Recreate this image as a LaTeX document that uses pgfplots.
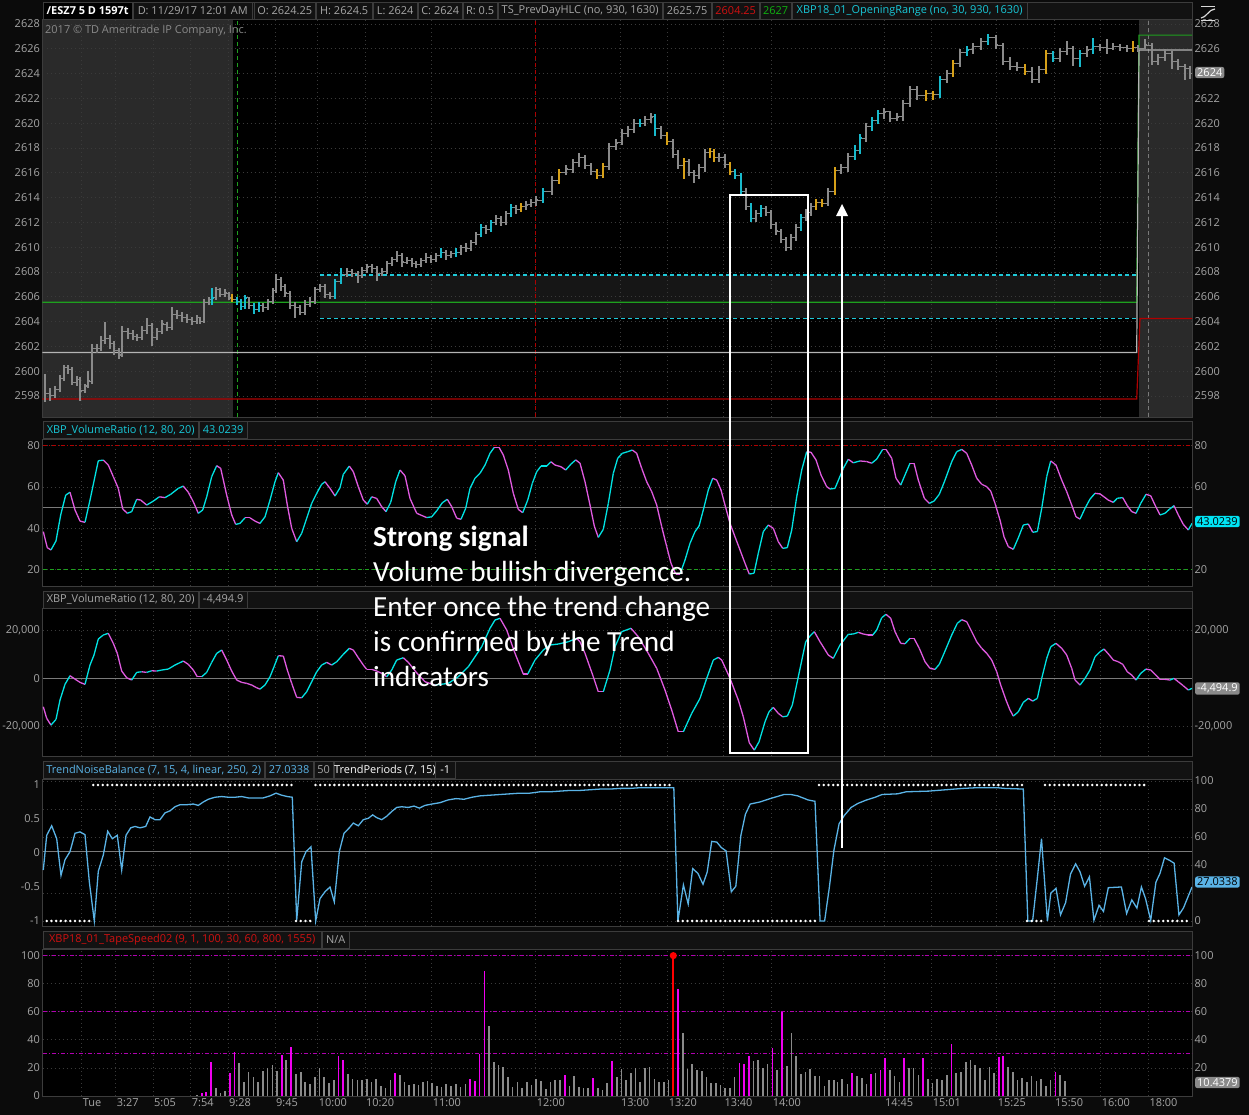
\documentclass[border=0pt]{standalone}
\usepackage{fontspec}
\setmainfont{Open Sans}
\newfontfamily\annot{Carlito}
\usepackage{pgfplots}
\usepackage{pgfplotstable}
\pgfplotsset{compat=1.18}

\definecolor{bgout}{HTML}{0B0B0B}
\definecolor{hdr}{HTML}{121212}
\definecolor{hdrline}{HTML}{3C3C3C}
\definecolor{gridc}{HTML}{3A3A3A}
\definecolor{tickc}{HTML}{A6A6A6}
\definecolor{shade}{HTML}{2A2A2A}
\definecolor{orfill}{HTML}{161616}
\definecolor{tnb}{HTML}{5AB3E6}
\definecolor{tsline}{HTML}{B000B0}
\definecolor{orline}{HTML}{1FC8D8}
\definecolor{pgreen}{HTML}{1EA01E}
\definecolor{pred}{HTML}{B00000}
\definecolor{pgray}{HTML}{B4B4B4}
\definecolor{midline}{HTML}{7A7A7A}
\definecolor{redtxt}{HTML}{D01010}
\definecolor{greentxt}{HTML}{10B010}
\definecolor{cyantxt}{HTML}{18C8D8}
\definecolor{tsgray}{HTML}{8A8A8A}
\definecolor{barcyan}{HTML}{18BACC}
\definecolor{barorange}{HTML}{D6A018}
\definecolor{tsmag}{HTML}{F000F0}
\definecolor{vrbox}{HTML}{00E5F5}

\newcommand\tf{\fontsize{11}{13}\selectfont}

% price bars: x, low, high, close, colour class (0 grey, 1 cyan, 2 orange)
\pgfplotstableread{
x l h c k
45 2597.5 2599.8 2598.2 0
50 2597.6 2598.6 2598.0 0
55 2597.8 2598.8 2598.5 0
60 2598.3 2599.7 2599.4 0
64 2599.2 2600.5 2600.3 0
68 2599.8 2600.5 2600.1 0
72 2598.9 2600.3 2599.1 0
77 2598.8 2599.6 2599.3 0
80 2597.6 2599.5 2598.4 0
85 2598.2 2599.0 2598.8 0
88 2598.6 2600.0 2599.2 0
92 2599.0 2602.2 2601.8 0
97 2601.5 2602.2 2601.8 0
101 2601.6 2602.8 2602.5 0
105 2602.2 2604.0 2602.6 0
110 2601.8 2602.9 2602.2 0
114 2601.3 2602.4 2601.7 0
119 2601.0 2601.9 2601.3 0
122 2601.1 2603.6 2603.2 0
128 2602.6 2603.5 2603.0 0
133 2602.5 2603.3 2602.8 0
137 2602.4 2603.0 2602.7 0
142 2602.5 2603.6 2603.3 0
147 2603.0 2604.3 2603.7 0
152 2602.0 2603.9 2602.7 0
157 2602.5 2603.5 2603.2 0
162 2603.0 2604.1 2603.8 0
167 2603.2 2604.0 2603.5 0
172 2603.3 2605.2 2604.6 0
177 2604.2 2604.9 2604.5 0
182 2604.0 2604.8 2604.3 0
187 2603.9 2604.6 2604.2 0
192 2603.7 2604.4 2604.0 0
197 2603.8 2604.5 2604.3 0
200 2603.8 2604.4 2604.0 0
204 2603.9 2605.8 2605.5 0
209 2605.3 2606.0 2605.8 0
212 2605.3 2606.7 2605.9 1
216 2605.7 2606.8 2606.6 0
220 2606.0 2606.7 2606.2 0
225 2606.0 2606.6 2606.3 0
229 2605.7 2606.4 2605.9 0
232 2605.6 2606.2 2605.8 2
237 2605.3 2606.0 2605.6 1
241 2604.9 2605.8 2605.2 1
245 2605.0 2606.1 2605.9 1
249 2605.0 2606.0 2605.3 0
254 2604.6 2605.5 2605.0 1
259 2604.8 2605.6 2605.3 1
263 2604.8 2605.5 2605.1 0
268 2604.9 2605.8 2605.6 0
273 2605.4 2606.7 2606.5 0
276 2606.3 2607.8 2607.4 0
281 2606.5 2607.6 2606.8 0
285 2606.0 2607.0 2606.3 0
290 2605.0 2606.5 2605.3 0
295 2604.3 2605.6 2605.1 0
300 2604.5 2605.3 2604.7 0
305 2604.5 2605.7 2605.4 0
310 2605.2 2606.0 2605.6 0
315 2605.4 2606.8 2606.6 0
320 2606.4 2607.0 2606.8 0
325 2605.9 2607.0 2606.2 0
330 2605.8 2606.4 2606.0 0
335 2605.8 2607.4 2607.2 1
341 2607.0 2608.3 2607.8 1
347 2607.6 2608.3 2608.0 0
352 2607.6 2608.2 2607.9 0
358 2607.1 2608.1 2607.7 0
362 2607.5 2608.4 2608.1 0
367 2607.9 2608.6 2608.4 0
372 2607.9 2608.6 2608.3 0
377 2607.3 2608.5 2607.9 0
382 2607.7 2608.3 2608.0 0
387 2607.8 2608.9 2608.7 0
392 2608.5 2609.2 2609.0 0
397 2608.8 2609.7 2609.3 0
402 2608.4 2609.5 2608.8 0
407 2608.6 2609.2 2608.9 0
412 2608.4 2609.1 2608.7 0
416 2608.3 2608.9 2608.6 0
421 2608.4 2609.1 2608.9 0
426 2608.7 2609.5 2609.2 0
431 2608.7 2609.4 2609.0 0
436 2608.8 2609.5 2609.3 0
441 2609.1 2609.9 2609.6 1
446 2609.0 2609.8 2609.3 0
451 2609.1 2609.7 2609.5 0
456 2609.2 2609.9 2609.6 1
461 2609.4 2610.2 2610.0 0
466 2609.6 2610.3 2609.9 0
471 2609.7 2610.6 2610.4 0
476 2610.2 2611.2 2611.0 0
481 2610.8 2611.9 2611.6 1
486 2611.1 2611.8 2611.4 0
491 2611.2 2612.2 2612.0 1
496 2611.8 2612.6 2612.3 0
501 2611.7 2612.5 2612.0 0
506 2611.8 2612.9 2612.7 0
511 2612.4 2613.5 2613.2 1
516 2612.7 2613.4 2613.0 0
521 2612.8 2613.6 2613.3 2
526 2613.0 2613.7 2613.4 0
531 2613.2 2613.9 2613.6 0
536 2613.3 2614.1 2613.8 0
543 2613.6 2614.8 2614.5 1
552 2614.2 2615.7 2615.4 0
559 2615.1 2616.3 2616.0 2
566 2615.8 2616.6 2616.3 0
573 2616.0 2617.1 2616.8 0
579 2616.5 2617.6 2617.2 0
585 2616.3 2617.4 2616.6 0
591 2615.8 2616.8 2616.1 0
597 2615.5 2616.3 2615.8 2
603 2615.6 2616.8 2616.5 2
609 2616.2 2618.4 2618.1 0
616 2617.8 2618.7 2618.4 0
622 2618.2 2619.5 2619.2 0
628 2618.9 2619.8 2619.5 0
634 2619.2 2620.3 2620.0 0
640 2619.7 2620.3 2620.0 1
645 2619.8 2620.6 2620.3 0
651 2620.0 2620.8 2620.5 0
655 2619.0 2620.7 2619.6 1
661 2618.7 2619.8 2619.0 0
667 2618.2 2619.3 2618.5 2
673 2617.2 2618.7 2617.5 0
678 2616.3 2617.8 2616.6 0
684 2615.5 2617.2 2616.9 2
689 2615.7 2617.1 2616.0 0
694 2615.2 2616.2 2615.8 0
699 2615.5 2616.7 2616.4 0
705 2616.1 2617.9 2617.6 0
710 2617.2 2618.0 2617.7 2
714 2616.9 2617.9 2617.2 2
719 2616.9 2617.6 2617.2 0
725 2616.4 2617.5 2616.7 0
730 2615.8 2616.9 2616.1 2
735 2615.5 2616.3 2615.8 1
741 2614.2 2616.0 2614.5 1
746 2613.0 2614.8 2613.3 0
751 2612.0 2613.6 2612.3 1
756 2612.0 2613.0 2612.7 0
761 2612.4 2613.4 2613.1 1
766 2612.5 2613.3 2612.8 0
771 2611.5 2613.0 2611.8 0
776 2611.0 2612.0 2611.3 0
781 2610.3 2611.5 2610.6 0
786 2609.7 2610.8 2610.0 0
791 2609.8 2611.1 2610.8 0
796 2610.5 2611.9 2611.6 0
801 2611.3 2612.7 2612.4 1
806 2612.1 2613.1 2612.8 0
811 2612.5 2613.6 2613.3 0
816 2613.0 2613.9 2613.6 2
822 2613.2 2613.9 2613.5 2
828 2613.3 2614.8 2614.5 0
835 2614.2 2616.5 2616.2 2
841 2615.9 2616.7 2616.4 0
848 2616.1 2617.6 2617.3 0
855 2617.0 2618.2 2617.8 1
860 2617.5 2619.1 2618.8 1
866 2618.5 2620.0 2619.7 0
872 2619.4 2620.5 2620.2 1
878 2619.9 2621.1 2620.8 1
884 2620.3 2621.2 2620.9 0
890 2620.1 2621.0 2620.4 0
897 2620.2 2620.8 2620.5 0
903 2620.2 2621.9 2621.6 0
910 2621.3 2623.0 2622.7 0
917 2621.9 2623.0 2622.2 0
926 2621.8 2622.7 2622.4 2
933 2621.9 2622.6 2622.3 2
940 2622.0 2623.8 2623.5 1
947 2623.2 2624.3 2624.0 0
953 2623.7 2625.1 2624.8 2
960 2624.5 2626.0 2625.7 0
967 2625.4 2626.2 2625.9 1
973 2625.6 2626.5 2626.2 0
981 2625.9 2626.9 2626.6 0
988 2626.3 2627.2 2626.9 1
996 2626.0 2627.1 2626.3 0
1003 2624.7 2626.5 2625.0 0
1010 2624.3 2625.3 2624.6 0
1017 2624.2 2624.9 2624.5 0
1025 2623.9 2624.8 2624.2 2
1032 2623.2 2624.5 2623.5 0
1039 2623.2 2624.6 2624.3 0
1046 2624.0 2625.9 2625.6 2
1053 2624.9 2625.8 2625.2 1
1060 2624.9 2626.1 2625.8 0
1067 2625.5 2626.6 2626.0 0
1073 2624.6 2626.2 2625.2 0
1080 2624.5 2625.9 2625.6 1
1087 2625.3 2626.2 2625.9 0
1093 2625.6 2626.9 2626.2 1
1100 2625.8 2626.4 2626.1 0
1107 2625.6 2626.8 2626.0 0
1113 2625.9 2626.5 2626.2 0
1120 2625.8 2626.4 2626.1 0
1127 2625.7 2626.3 2626.0 0
1133 2625.7 2626.6 2626.1 2
1138 2625.7 2626.3 2626.0 0
1145 2626.0 2626.8 2626.3 0
1152 2624.7 2626.5 2625.0 0
1158 2624.7 2625.6 2625.3 0
1165 2625.0 2626.0 2625.6 0
1172 2624.4 2625.8 2625.0 0
1178 2624.3 2625.2 2624.6 0
1185 2623.5 2624.8 2624.4 0
1190 2623.6 2624.6 2624.0 0
}\price

% volume ratio (m: 0 rising = cyan, 1 falling = magenta)
\pgfplotstableread{
x v m
43.3 38.3 1
47.3 30.5 1
51 29.4 0
56 33.8 0
60.7 46.4 0
65.7 56 0
70 57.4 1
75 48.8 1
80 43.4 1
85 42.8 0
90 53.6 0
98.3 72.7 0
103.3 73 1
108.3 70.6 1
113.3 65 1
118.3 59.3 1
122.7 49.3 1
127.3 47.2 0
131.7 48 0
136.7 54 1
140.7 53.6 1
146.7 51.2 0
153.3 53.1 0
159.3 55.2 1
165 54.8 0
170.7 56.4 0
178.3 59.3 0
183.3 60.4 1
188.3 57.4 1
193.3 52.8 1
198.3 47.2 0
202.7 48.8 0
206.7 55.2 0
211.7 65 0
216.7 70.3 1
220.7 69 1
226.7 56 1
231.7 46.4 1
235.7 41.8 0
240 42.3 0
245 45 1
250 45 1
255 43.4 1
260 42.3 0
265 45.5 0
270 53.6 0
275 62.5 0
278.3 66.9 1
283.3 63.3 1
287.3 51.2 1
291.7 39.9 1
296.7 33.4 0
301.7 37.5 0
306.7 44.8 0
311.7 52 0
316.7 56.9 0
321.7 61.3 0
325 62.5 1
330 59.3 1
335 55.6 0
340 59.6 0
343.3 66.1 0
349.3 70.1 1
353.3 67.4 1
358.3 60.1 1
363.3 53.6 1
367.3 51.6 0
371.7 55.2 1
376.7 54.4 1
381.7 50.4 1
386 48 0
390.7 52.5 0
395.7 62.5 0
400 68.2 1
405 65.4 1
410 54.4 1
416.7 47.2 1
426.7 45.1 0
431.7 45.5 0
436.7 48.4 0
442.3 52.3 0
447.3 54 1
451.7 50.4 1
456.7 44.8 1
461 44.3 0
465.7 49.6 0
470 59.3 0
475 64.2 0
480 66.6 0
485 70.6 0
490 76.3 0
494.3 79.2 1
499 79.2 1
503.3 75.5 1
508.3 68.2 1
513.3 56.9 1
518.3 49.1 1
522.7 47.5 0
527.7 53.6 0
532.3 61.7 0
536.7 67.4 0
541 70.1 0
546.7 70.1 0
551 72.2 1
555 70.6 1
561 69.8 1
565.7 68.2 0
571 71.1 0
575.7 73.1 1
580 71.5 1
585 62.5 1
590 51.2 1
594.3 41 1
598.3 35.5 0
603.3 39.4 0
608.3 52 0
613.3 66.6 0
617.7 73.9 0
622.3 76.3 0
627.7 77.1 0
632.3 77.9 1
636.7 76.3 1
641.7 69 1
646.7 62.5 1
651.7 57.7 1
656.7 51.2 1
661.7 40.7 1
666.7 31 1
671 22.9 1
675.7 17.7 1
680 17.7 0
685 24.5 0
690 32.6 0
695 38.3 0
699 41 0
703.3 48.8 0
708.3 58.5 0
712.7 64.2 1
716.7 63.3 1
721 58.5 1
725 51.2 1
730 42.3 1
735 35.8 1
740 29.4 1
745 22.9 1
749.3 17.7 0
754 18.1 0
758.3 27.8 0
763.3 38.3 0
768.3 41.5 1
773.3 39.9 1
778.3 33.4 1
782.7 30.2 0
787.3 30.5 0
791.7 39.1 0
796.7 55.2 0
801.7 68.2 0
806.7 77.1 1
811 76.8 1
816 73.1 1
821 65.8 1
826.7 60.1 1
830 59 0
835 59.3 0
843.3 69 0
848.3 73.4 1
853.3 71.7 0
860 72.6 1
866.7 72.3 1
871.7 71.5 0
876.7 73.5 0
882.7 78.2 1
886 78.2 1
891.7 73.9 1
896 64.2 1
900.7 60.9 0
905 65.8 0
910 71.5 1
914 71.5 1
918.3 63.3 1
924.3 54.5 1
929.3 52 0
934 53.1 0
939.3 56.4 0
945 63.3 0
951.7 72.2 0
956.7 77.1 0
961.7 78.2 1
966.7 76.3 1
971.7 70.6 1
976.7 64.2 1
981.7 61.3 1
986.7 60.1 1
990.7 58 1
995 52 1
1000 43.9 1
1004 35.8 1
1008.3 31 1
1013.3 29.7 0
1018.3 35.3 0
1023.3 41.5 0
1028.3 42 1
1032.7 38 0
1037.3 38.3 0
1041.7 49.6 0
1046.7 65 0
1050.7 72.6 1
1056 70.6 1
1061.7 63.3 1
1066.7 57.7 1
1071.7 51.2 1
1076 45.5 1
1080 44.4 0
1085 49.6 0
1090 54.1 0
1095 56.9 1
1100 56.6 1
1104 55.2 1
1108.3 53.6 1
1113.3 52.5 0
1117.3 54.5 0
1122.7 54.8 1
1127.3 50.9 1
1131.7 48 1
1136 47.2 0
1140.7 52 0
1146 56.4 1
1150.7 55.7 1
1155 51.2 1
1160 46.4 0
1165 47.2 0
1169.3 49.1 0
1174 50.9 1
1178.3 46.4 1
1183.3 41.8 1
1188.3 39.1 0
1192 42.3 0
}\vrA

\pgfplotstableread{
x v m
43.3 -11760 1
46.7 -16560 1
51 -19330 0
56 -16970 0
60 -8980 0
65 -2480 0
70 1080 1
75 -290 1
80 -1660 1
85 -2480 0
90 5510 0
94 9650 0
98.3 16270 0
103.3 17930 0
108.3 18630 1
113.3 14490 1
117.3 10350 1
121.7 3020 1
126.7 250 1
131.7 -700 0
136.7 2480 0
141.7 2730 1
146.7 2480 0
151.7 3150 1
156.7 3020 0
161.7 3440 0
168.3 3850 0
175 5510 0
183.3 7160 1
188.3 5800 1
193.3 3440 1
197.3 660 1
201.7 660 0
206.7 2480 0
211.7 6620 0
216.7 10350 0
221.7 11720 1
226.7 7580 1
231.7 3020 1
236.7 -700 1
241.7 -1660 1
246.7 -2070 1
251.7 -2770 1
256.7 -3890 1
260 -4430 0
265 -2770 0
270 660 0
274 4800 0
278.3 9360 1
283.3 9230 1
287.3 3440 1
291.7 -2070 1
296.7 -7870 1
301.7 -8030 0
306.7 -5550 0
311.7 -1410 0
316.7 2730 0
321.7 5510 0
326.7 6620 1
331.7 5510 0
336.7 6870 0
343.3 9940 0
349.3 12420 1
353.3 11720 1
358.3 8530 1
363.3 5510 1
366.7 3730 1
371.7 3730 1
376.7 3020 1
381.7 2070 1
386.7 660 0
391.7 3440 0
396.7 7580 0
403.3 8530 1
408.3 6620 1
416.7 2300 1
425 -1410 1
435 -2770 0
448.3 -2070 0
458.3 660 0
468.3 4800 0
481.7 13080 0
490 20700 0
495 24140 0
500 24840 1
506.7 20000 1
515 10350 1
523.3 1780 1
527.7 1780 0
535 7580 0
543.3 11720 0
550 13790 0
558.3 14200 0
568.3 15150 0
576.7 16560 1
580 15150 1
585 10350 1
593.3 660 1
598.3 -5550 1
603.3 -5550 0
610 3440 0
615 13080 0
621.7 19310 0
631 20700 1
638.3 17220 1
648.3 10350 1
656.7 4140 1
665 -4840 1
671.7 -13120 1
678.3 -22110 1
683.3 -22110 0
691.7 -14490 0
700 -8280 0
706.7 0 0
713.3 7580 0
718.3 8690 1
721.7 7580 1
730 0 1
738.3 -8980 1
743.3 -15900 1
749.3 -26660 1
754.3 -29680 0
759 -26250 0
765 -17970 0
769 -13830 0
773.3 -12010 1
778.3 -14490 1
782.7 -15900 0
787.3 -15610 0
792.3 -11050 0
798.3 660 0
805.7 15150 0
810 17510 0
814.3 19310 1
820 15150 1
828.3 9650 1
833.3 8280 0
840 13790 0
848.3 18220 0
853.3 18340 0
858.3 19040 1
863.3 18340 1
868.3 17930 1
872.7 17930 0
876.7 20000 0
881.7 25090 0
886 26500 1
890.7 24840 1
895 19310 1
900.7 14490 1
905 14320 0
910 16560 1
914 16560 1
919.3 12420 1
925 6870 1
930 4140 1
935 3730 0
939.3 5800 0
945 11300 0
951.7 17930 0
957.3 22770 0
961.7 24260 1
966.7 23430 1
971.7 19310 1
976.7 15150 1
981.7 12420 1
986.7 10350 1
991.7 7580 1
996.7 2730 1
1000.7 -2770 1
1006 -8980 1
1010 -13120 1
1013.3 -15610 0
1018.3 -13830 0
1023.3 -9940 0
1028.3 -8280 1
1032.7 -9400 0
1037.3 -8280 0
1041.7 0 0
1046.7 8280 0
1050.7 13080 0
1056 14490 1
1061.7 12420 1
1066.7 9650 1
1071.7 4140 1
1075 -700 1
1080 -2770 0
1085 0 0
1090 3440 0
1095 8940 0
1100 11010 0
1104 12130 1
1109.3 9650 1
1113.3 7580 1
1118.3 6870 1
1122.7 5800 1
1127.3 2730 1
1131.7 1370 1
1136 -700 0
1140.7 2070 0
1146 3850 1
1150.7 3440 1
1155 1660 1
1160 -410 1
1165 -410 1
1170 -700 0
1174 0 1
1178.3 -1410 1
1183.3 -3060 1
1188.3 -4840 0
1192 -4140 0
}\vrB

\pgfplotstableread{
x v
43.3 -0.25
46.7 0.26
51.7 0.4
56.7 0.21
61 -0.33
65 -0.1
70 0.02
75 0.29
80 0.31
85 0.27
89.3 -0.42
94.3 -1
98.3 -0.27
103.3 -0.03
107.7 0.32
112.3 0.21
117.3 0.26
121.7 -0.25
126 0.26
130.7 0.37
135 0.39
140 0.37
145.7 0.39
150 0.53
155 0.49
160 0.49
165 0.59
170 0.62
175 0.68
180 0.71
186.7 0.71
193.3 0.72
198.3 0.7
203.3 0.75
208.3 0.79
215 0.82
221.7 0.83
228.3 0.82
235 0.82
241.7 0.83
248.3 0.81
255 0.81
263.3 0.81
270 0.84
276 0.88
281.7 0.85
287.3 0.83
292.3 0.82
296.7 -0.99
301.7 -0.13
306 0.02
311 0.09
315.7 -1
320 -0.67
325 -0.57
330 -0.5
334.3 -0.72
339.3 0.02
344 0.29
349.3 0.37
353.3 0.44
358.3 0.4
363.3 0.49
368.3 0.51
372.7 0.56
376.7 0.52
381.7 0.49
386.7 0.54
391.7 0.61
396.7 0.67
401.7 0.68
408.3 0.67
414 0.69
419.3 0.66
425 0.7
432 0.72
440 0.74
448 0.78
456 0.8
464 0.79
472 0.82
480 0.84
490 0.85
500 0.86
510 0.87
520 0.88
530 0.88
540 0.9
550 0.9
560 0.91
570 0.92
580 0.92
590 0.93
600 0.94
610 0.94
620 0.95
630 0.95
640 0.96
650 0.96
660 0.96
673.8 0.96
677.9 -1
683.4 -0.47
688.2 -0.75
692.7 -0.23
697.9 -0.3
703 -0.46
707.2 -0.28
711.7 0.17
716.8 0.16
721.3 0.08
726.1 0.03
731.3 -0.57
735.8 -0.49
740.9 0.26
745.4 0.57
750.2 0.72
759.9 0.75
770.2 0.8
784 0.86
790.9 0.86
797.7 0.84
808.1 0.78
815 0.76
820.1 -1
824.6 -1
829.4 -0.5
833.9 0.04
839.1 0.43
844.2 0.55
851.1 0.67
858 0.73
866.6 0.78
875.2 0.82
882.1 0.86
897.6 0.87
906.2 0.9
928.6 0.91
945.8 0.93
963 0.95
976.8 0.96
997.5 0.96
1004.4 0.95
1023.3 0.94
1027.8 -1
1032.6 -1
1037.1 -0.4
1041.5 0.21
1047.4 -1
1050.8 -0.59
1056 -0.52
1060.5 -0.91
1065.6 -0.73
1070.5 -0.31
1075.6 -0.16
1080.1 -0.28
1084.6 -0.49
1089.4 -0.35
1093.9 -0.99
1099 -0.77
1103.5 -0.86
1108.3 -0.51
1121.4 -0.5
1126.6 -0.89
1131.8 -0.69
1136.9 -0.81
1141.4 -0.5
1145.5 -0.67
1150.7 -0.99
1155.9 -0.43
1160 -0.3
1164.5 -0.07
1169.7 -0.11
1174.1 -0.15
1178.9 -0.91
1183.4 -0.81
1192 -0.5
}\tnbdata

% tape speed bars (k: 0 grey, 1 magenta)
\pgfplotstableread{
x v k
196.7 1 0
201.7 2 1
206 2.6 1
210.7 24.5 1
215.7 5.7 0
220.3 2 0
225 3.8 0
230 16.7 1
234.3 31.4 1
239 23.8 0
243.7 9.7 0
248.3 17.2 0
253.3 13.2 0
257.7 9.7 0
262.7 17.5 0
267.3 19.6 0
272.3 22.2 0
277 17.9 0
281.7 29 1
286 25.5 0
291 35.1 1
295.7 16 0
300.7 17.2 0
305 10.1 0
310 8.5 0
314.7 13.2 0
319.3 20.3 0
324 13.7 0
329 9 0
333.7 11.3 0
338.3 28.3 1
343 25.7 1
347.7 15.6 0
352.3 12 0
357.3 11.3 0
362 11.3 0
366.7 12 0
371.3 9.9 0
376 12 0
380.7 7.3 0
385.3 5.7 0
390.3 11.3 0
394.7 16.7 1
399.7 14.9 0
404.3 9.7 0
409 8 0
413.7 8.5 0
418.3 8 0
422.7 9.7 0
427.3 10.8 0
432 9 0
436.7 7.3 0
441.3 6.1 0
446 8.5 0
450.7 6.8 0
455.7 8.5 0
460.3 6.4 0
465.3 8.5 0
470 12 1
474.7 10.8 1
479.3 29.7 1
484.3 89.2 1
489 50.2 0
493.7 24.3 0
498.3 22.4 0
502.7 20.8 0
507.7 13.2 0
512.3 6.4 0
517.3 9.7 0
522 5.4 0
526.7 9.7 0
531.3 7.8 0
536 12 0
540.7 10.8 0
545.7 5 0
550.3 9.7 0
555 11.3 0
559.7 11.3 0
564.7 14.9 1
569.3 7.3 0
574 14.2 0
578.7 6.1 0
583.3 5.7 0
588 5.4 0
593 13 1
597.7 5.7 0
602.3 4.2 0
607 9.4 0
612 25.2 1
616.7 13.2 0
621.3 18.9 0
626 11.3 0
630.7 16.3 0
635.3 20.3 0
640 9.7 0
645 20.3 0
649.3 20.8 0
654.3 11.8 0
659 9.7 0
663.7 9.7 0
668.3 11.3 0
677.7 76.2 1
682.7 45 0
687.3 19.1 0
692 22.6 0
696.7 18.4 0
701.7 17.5 0
706.3 13.2 0
711 9.4 0
715.7 9 0
720.3 7.5 0
725 5.4 0
730 5.7 0
734.3 13.2 0
739.3 23.8 1
744 22.6 1
748.7 28.8 1
753.3 25 0
758 25.5 0
762.7 20.3 0
767.3 22.6 0
772.3 34.2 1
777 18.6 0
781.7 59.7 1
786.7 21.7 0
791.3 45 0
796 28.3 0
800.7 16 0
805.3 17.2 0
810 19.1 0
814.7 14.4 0
819.3 14.4 0
824.3 6.8 0
829 11.3 0
833.7 11.3 0
837.3 9.7 0
842 12 0
847.3 8.3 0
852 16.7 1
856.7 13.9 0
861.7 12.5 0
866.3 8.5 0
870.7 15.6 1
875.3 16.3 0
880.3 18.6 1
885 26.9 1
890 18.4 0
894.3 13.9 0
899.3 9.9 0
904 26.9 1
908.7 20 0
913.3 20 0
918.3 15.1 0
923 26.9 1
927.7 12 0
932.3 9 0
937 12 0
941.7 11.6 0
946.7 15.1 0
951.3 37.3 1
956 16.5 0
960.7 17 0
965.7 24.1 0
970.3 25.5 0
975 22.2 0
980 19.8 0
984.7 11.3 0
989.3 20.8 0
994 16.7 0
998.7 28.1 1
1003 28.3 1
1008 20.8 0
1012.7 17.2 0
1017.3 11.3 0
1022 12.5 0
1026.7 9.7 0
1031.3 13.9 0
1036.3 10.8 0
1041 11.8 0
1045.7 7.3 0
1050.3 11.6 0
1055.3 17.2 1
1060 15.1 0
1065 10.4 0
}\tape

\pgfplotsset{
  panel/.style={
    anchor=north west,
    scale only axis, width=1149.5bp,
    xmin=42.5, xmax=1192,
    axis line style={draw=hdrline},
    major tick length=0pt,
    xtick={81.7,115.7,153,190.7,228,275,317.7,365,431.7,535.7,620,667.7,723.3,771.7,884,931.7,996.7,1054,1100.7,1148.3},
    xticklabels={},
    xmajorgrids, ymajorgrids,
    major grid style={draw=gridc, line width=0.8bp, dash pattern=on 1bp off 3bp},
    tick label style={font=\tf, text=tickc},
    yticklabel style={inner sep=2.5bp},
    /pgf/number format/assume math mode=true,
    /pgf/number format/1000 sep={},
    scaled y ticks=false,
  },
  rgt/.style={
    panel, yticklabel pos=right, axis line style={draw=none},
    xmajorgrids=false, ymajorgrids=false,
  },
  % one colour class of price bars: vertical low-high line plus close tick
  pbar/.style 2 args={draw=none, mark=none,
    restrict expr to domain={\thisrow{k}}{#1:#1},
    error bars/.cd, x dir=plus, x fixed=2.3, y dir=both, y explicit, error mark=none,
    error bar style={draw=#2, line width=1.1bp, solid}},
  tbar/.style 2 args={ycomb, draw=#2, line width=1.6bp, mark=none,
    restrict expr to domain={\thisrow{k}}{#1:#1}},
}

\tikzset{hb/.style={anchor=west, draw=hdrline, fill=hdr, minimum height=17bp,
  inner sep=0pt, font=\tf}}
\newcommand\hb[5]{\node[hb, minimum width=#2bp, text=#4] at (#1bp,-#3bp) {#5};}

\begin{document}
\begin{tikzpicture}
\fill[bgout] (0,0) rectangle (1249bp,-1115bp);

% header strips
\foreach \a/\b in {2/19,421/439,591/608,761/779,931/949}
  \draw[hdrline, fill=hdr] (43bp,-\a bp) rectangle (1192bp,-\b bp);

% plot backgrounds
\foreach \a/\b in {19/417,439/586,608/756,779/926,949/1096}
  \fill[black] (42.5bp,-\a bp) rectangle (1192bp,-\b bp);

% ---------- price: session shading underneath ----------
\begin{axis}[panel, hide axis, at={(42.5bp,-19bp)}, height=398bp,
  ymin=2596.3, ymax=2628.4]
\addplot[fill=shade, draw=none] coordinates
  {(42.5,2596.3) (232.7,2596.3) (232.7,2628.4) (42.5,2628.4)} -- cycle;
\addplot[fill=shade, draw=none] coordinates
  {(1139,2596.3) (1192,2596.3) (1192,2628.4) (1139,2628.4)} -- cycle;
\addplot[fill=orfill, draw=none] coordinates
  {(320,2604.25) (1137,2604.25) (1137,2607.75) (320,2607.75)} -- cycle;
\end{axis}

% ---------- price ----------
\begin{axis}[panel, at={(42.5bp,-19bp)}, height=398bp,
  ymin=2596.3, ymax=2628.4, ytick={2598,2600,...,2628}]
\addplot[pgreen, line width=1.2bp, dash pattern=on 4bp off 3bp] coordinates {(237.3,2596.3) (237.3,2628.4)};
\addplot[pred, line width=1bp, dash pattern=on 4bp off 3bp] coordinates {(535.3,2596.3) (535.3,2628.4)};
\addplot[midline, line width=1bp, dash pattern=on 4bp off 3bp] coordinates {(1148.3,2596.3) (1148.3,2628.4)};
\addplot[orline, line width=1.2bp, dash pattern=on 4bp off 3bp] coordinates {(320,2607.75) (1137,2607.75)};
\addplot[orline, line width=1.2bp, dash pattern=on 4bp off 3bp] coordinates {(320,2604.25) (1137,2604.25)};
\addplot[pgreen, line width=1.2bp] coordinates {(42.5,2605.55) (1136.7,2605.55) (1139,2627.1) (1192,2627.1)};
\addplot[pgray, line width=1.2bp] coordinates {(42.5,2601.5) (1136.7,2601.5) (1139,2625.9) (1192,2625.9)};
\addplot[pred, line width=1.2bp] coordinates {(42.5,2597.75) (1136.7,2597.75) (1140,2604.25) (1192,2604.25)};
\addplot[const plot mark left, tsgray, line width=1bp] table[x=x, y=c] \price;
\addplot[pbar={0}{tsgray}] table[x=x, y=c, y error plus expr=\thisrow{h}-\thisrow{c}, y error minus expr=\thisrow{c}-\thisrow{l}] \price;
\addplot[pbar={1}{barcyan}] table[x=x, y=c, y error plus expr=\thisrow{h}-\thisrow{c}, y error minus expr=\thisrow{c}-\thisrow{l}] \price;
\addplot[pbar={2}{barorange}] table[x=x, y=c, y error plus expr=\thisrow{h}-\thisrow{c}, y error minus expr=\thisrow{c}-\thisrow{l}] \price;
\end{axis}
\begin{axis}[rgt, at={(42.5bp,-19bp)}, height=398bp,
  ymin=2596.3, ymax=2628.4, ytick={2598,2600,2602,2604,2606,2608,2610,2612,2614,2616,2618,2620,2622,2626,2628}]
\addplot[draw=none] coordinates {(42.5,2600) (1192,2600)};
\end{axis}

% ---------- volume ratio 1 ----------
\begin{axis}[panel, at={(42.5bp,-439bp)}, height=147bp,
  ymin=11.9, ymax=83.25, ytick={20,40,60,80},
  colormap={vr}{rgb255=(0,227,227) rgb255=(224,90,224)},
  point meta min=0, point meta max=1]
\addplot[midline, line width=1bp] coordinates {(42.5,50) (1192,50)};
\addplot[pred, line width=1.1bp, dash pattern=on 4bp off 2bp on 1bp off 2bp] coordinates {(42.5,80) (1192,80)};
\addplot[pgreen, line width=1.1bp, dash pattern=on 4bp off 3bp] coordinates {(42.5,20) (1192,20)};
\addplot[mesh, shader=flat corner, line width=1.3bp, point meta=explicit] table[x=x, y=v, meta=m] \vrA;
\end{axis}
\begin{axis}[rgt, at={(42.5bp,-439bp)}, height=147bp,
  ymin=11.9, ymax=83.25, ytick={20,60,80}]
\addplot[draw=none] coordinates {(42.5,50) (1192,50)};
\end{axis}

% ---------- volume ratio 2 ----------
\begin{axis}[panel, at={(42.5bp,-608bp)}, height=148bp,
  ymin=-32120, ymax=29100, ytick={-20000,0,20000}, yticklabels={{-20,000},0,{20,000}},
  colormap={vr}{rgb255=(0,227,227) rgb255=(224,90,224)},
  point meta min=0, point meta max=1]
\addplot[midline, line width=1bp] coordinates {(42.5,0) (1192,0)};
\addplot[mesh, shader=flat corner, line width=1.3bp, point meta=explicit] table[x=x, y=v, meta=m] \vrB;
\end{axis}
\begin{axis}[rgt, at={(42.5bp,-608bp)}, height=148bp,
  ymin=-32120, ymax=29100, ytick={-20000,20000}, yticklabels={{-20,000},{20,000}}]
\addplot[draw=none] coordinates {(42.5,0) (1192,0)};
\end{axis}

% ---------- trend noise balance ----------
\begin{axis}[rgt, ymajorgrids=true, xmajorgrids=true, at={(42.5bp,-779bp)}, height=147bp,
  ymin=-3.57, ymax=101.43, ytick={0,20,...,100}, yticklabels={0,{},40,60,80,100}]
\addplot[midline, line width=1bp] coordinates {(42.5,50) (1192,50)};
\end{axis}
\begin{axis}[panel, xmajorgrids=false, ymajorgrids=false, at={(42.5bp,-779bp)}, height=147bp,
  ymin=-1.074, ymax=1.088, ytick={-1,-0.5,0,0.5,1}]
\addplot[tnb, line width=1.3bp] table[x=x, y=v] \tnbdata;
\foreach \p/\q/\r in {93.3/293.3/1, 315.5/673/1, 819/1024/1, 1045/1147/1,
                      46.7/90/-1, 296/312/-1, 678/817/-1, 1027/1043/-1, 1149/1190/-1}{
  \edef\tmp{\noexpand\addplot[white, line width=2.8bp, line cap=round, dash pattern=on 0bp off 4.72bp]
    coordinates {(\p,\r) (\q,\r)};}\tmp
}
\end{axis}

% ---------- tape speed ----------
\begin{axis}[panel, at={(42.5bp,-949bp)}, height=147bp,
  ymin=0, ymax=104.7, ytick={0,20,...,100},
  xticklabels={Tue,3:27,5:05,7:54,9:28,9:45,10:00,10:20,11:00,12:00,13:00,13:20,13:40,14:00,14:45,15:01,15:25,15:50,16:00,18:00},
  xticklabel style={anchor=north west, inner sep=2bp, xshift=-1bp}]
\addplot[tsline, line width=1.2bp, dash pattern=on 4bp off 2bp on 1bp off 2bp] coordinates {(42.5,100) (1192,100)};
\addplot[tsline, line width=1.2bp, dash pattern=on 4bp off 2bp on 1bp off 2bp] coordinates {(42.5,60) (1192,60)};
\addplot[tsline, line width=1.2bp, dash pattern=on 4bp off 2bp on 1bp off 2bp] coordinates {(42.5,30) (1192,30)};
\addplot[tbar={0}{tsgray}] table[x=x, y=v] \tape;
\addplot[tbar={1}{tsmag}] table[x=x, y=v] \tape;
\addplot[red, line width=2bp, ycomb, mark=*, mark size=2.5bp] coordinates {(673.3,100)};
\end{axis}
\begin{axis}[rgt, at={(42.5bp,-949bp)}, height=147bp,
  ymin=0, ymax=104.7, ytick={20,40,...,100}]
\addplot[draw=none] coordinates {(42.5,50) (1192,50)};
\end{axis}

% ---------- headers ----------
\node[hb, minimum width=89bp, text=white, fill=black, font=\tf\bfseries] at (43bp,-10.5bp) {/ESZ7 5 D 1597t};
\hb{133}{119}{10.5}{tickc}{D: 11/29/17 12:01 AM}
\hb{254}{61}{10.5}{tickc}{O: 2624.25}
\hb{316}{56}{10.5}{tickc}{H: 2624.5}
\hb{373}{44}{10.5}{tickc}{L: 2624}
\hb{418}{44}{10.5}{tickc}{C: 2624}
\hb{463}{34}{10.5}{tickc}{R: 0.5}
\hb{498}{164}{10.5}{tickc}{TS\_PrevDayHLC (no, 930, 1630)}
\hb{663}{48}{10.5}{tickc}{2625.75}
\hb{712}{47}{10.5}{redtxt}{2604.25}
\hb{760}{31}{10.5}{greentxt}{2627}
\hb{792}{235}{10.5}{cyantxt}{XBP18\_01\_OpeningRange (no, 30, 930, 1630)}
\hb{43}{155}{430}{cyantxt}{XBP\_VolumeRatio (12, 80, 20)}
\hb{199}{48}{430}{cyantxt}{43.0239}
\hb{43}{155}{599.5}{tickc}{XBP\_VolumeRatio (12, 80, 20)}
\hb{199}{48}{599.5}{tickc}{-4,494.9}
\hb{43}{221}{770}{tnb}{TrendNoiseBalance (7, 15, 4, linear, 250, 2)}
\hb{265}{48}{770}{tnb}{27.0338}
\hb{314}{19}{770}{tickc}{50}
\hb{334}{100}{770}{white}{TrendPeriods (7, 15)}
\hb{435}{20}{770}{white}{-1}
\hb{43}{278}{940}{redtxt}{XBP18\_01\_TapeSpeed02 (9, 1, 100, 30, 60, 800, 1555)}
\hb{322}{27}{940}{tickc}{N/A}

\node[anchor=west, text=tsgray, font=\tf, inner sep=0pt] at (45bp,-31bp) {2017 © TD Ameritrade IP Company, Inc.};

% chart icon top right
\draw[white!85!black, line width=1bp] (1201bp,-6bp) -- (1215bp,-6bp);
\draw[white!85!black, line width=1.2bp] (1201bp,-18bp) .. controls (1206bp,-18bp) and (1209bp,-9bp) .. (1215bp,-9bp);
\draw[white!85!black, line width=1bp] (1201bp,-20bp) -- (1215bp,-20bp);

% value labels on the right
\node[anchor=west, fill=tsgray, text=white, rounded corners=2bp, inner xsep=2bp, inner ysep=1.5bp, font=\tf] at (1195bp,-72.5bp) {2624};
\node[anchor=west, fill=vrbox, text=black, rounded corners=2bp, inner xsep=2bp, inner ysep=1.5bp, font=\tf] at (1195bp,-521.5bp) {43.0239};
\node[anchor=west, fill=tsgray, text=white, rounded corners=2bp, inner xsep=2bp, inner ysep=1.5bp, font=\tf] at (1195bp,-688.5bp) {-4,494.9};
\node[anchor=west, fill=tnb, text=black, rounded corners=2bp, inner xsep=2bp, inner ysep=1.5bp, font=\tf] at (1195bp,-882bp) {27.0338};
\node[anchor=west, fill=tsgray, text=white, rounded corners=2bp, inner xsep=2bp, inner ysep=1.5bp, font=\tf] at (1195bp,-1082.5bp) {10.4379};

% annotation
\draw[white, line width=2bp] (730bp,-195bp) rectangle (808bp,-753bp);
\draw[white, line width=1.3bp] (842bp,-848bp) -- (842bp,-214bp);
\fill[white] (842bp,-204bp) -- (836bp,-216bp) -- (848bp,-216bp) -- cycle;
\begin{scope}[every node/.style={anchor=base west, text=white, inner sep=0pt}]
\node[font=\annot\bfseries\fontsize{29.3}{34}\selectfont] at (373bp,-546bp) {Strong signal};
\node[font=\annot\fontsize{29.3}{34}\selectfont] at (373bp,-581bp) {Volume bullish divergence.};
\node[font=\annot\fontsize{29.3}{34}\selectfont] at (373bp,-616bp) {Enter once the trend change};
\node[font=\annot\fontsize{29.3}{34}\selectfont] at (373bp,-651bp) {is confirmed by the Trend};
\node[font=\annot\fontsize{29.3}{34}\selectfont] at (373bp,-686bp) {indicators};
\end{scope}
\pgfresetboundingbox
\useasboundingbox (0,0) rectangle (1249bp,-1115bp);
\end{tikzpicture}
\end{document}
